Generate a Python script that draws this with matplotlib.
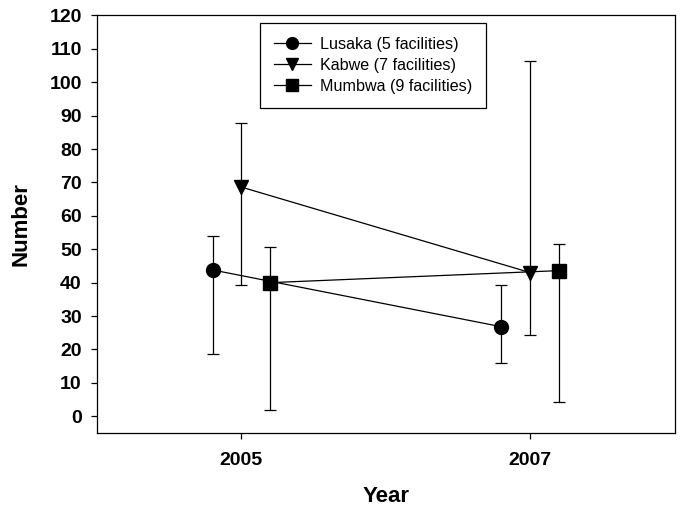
import numpy as np
import matplotlib.pyplot as plt

plt.rcParams['font.family'] = ['Liberation Sans', 'DejaVu Sans']

# data
years = np.array([2005, 2007])
offsets = [-0.2, 0.0, 0.2]
names = ['Lusaka (5 facilities)', 'Kabwe (7 facilities)', 'Mumbwa (9 facilities)']
markers = ['o', 'v', 's']
means = [[43.8, 26.8], [68.6, 43.0], [40.0, 43.6]]
upper = [[54.0, 39.2], [87.7, 106.4], [50.6, 51.7]]
lower = [[18.5, 16.0], [39.3, 24.3], [1.8, 4.3]]

fig = plt.figure(figsize=(6.85, 5.13), dpi=100)
ax = fig.add_axes([0.1416, 0.156, 0.8434, 0.814])

for name, mk, off, m, hi, lo in zip(names, markers, offsets, means, upper, lower):
    x = years + off
    m = np.array(m)
    yerr = [m - np.array(lo), np.array(hi) - m]
    ax.errorbar(x, m, yerr=yerr, fmt='none', ecolor='black', elinewidth=0.9,
                capsize=4.3, capthick=0.9)
    ax.plot(x, m, color='black', lw=0.9, marker=mk, markersize=10,
            markerfacecolor='black', markeredgecolor='black', label=name)

ax.set_xlim(2004, 2008)
ax.set_ylim(-5, 120)
ax.set_xticks(years)
ax.set_xticklabels([str(y) for y in years])
ax.set_yticks(np.arange(0, 121, 10))
ax.tick_params(direction='out', length=4, width=0.9, top=False, right=False)
for lab in ax.get_xticklabels() + ax.get_yticklabels():
    lab.set_fontweight('bold')
    lab.set_fontsize(14)
ax.tick_params(axis='x', pad=10)
ax.tick_params(axis='y', pad=7)
for sp in ax.spines.values():
    sp.set_linewidth(0.9)

ax.set_xlabel('Year', fontsize=16, fontweight='bold', labelpad=12)
ax.set_ylabel('Number', fontsize=16, fontweight='bold', labelpad=13)

leg = ax.legend(loc='upper left', bbox_to_anchor=(0.282, 0.982), borderaxespad=0,
                fancybox=False, edgecolor='black', fontsize=11.6, handlelength=2.3,
                handletextpad=0.6, borderpad=0.85, labelspacing=0.38,
                markerscale=0.85, framealpha=1)
leg.get_frame().set_linewidth(0.9)

fig.savefig('out.png', dpi=100)
